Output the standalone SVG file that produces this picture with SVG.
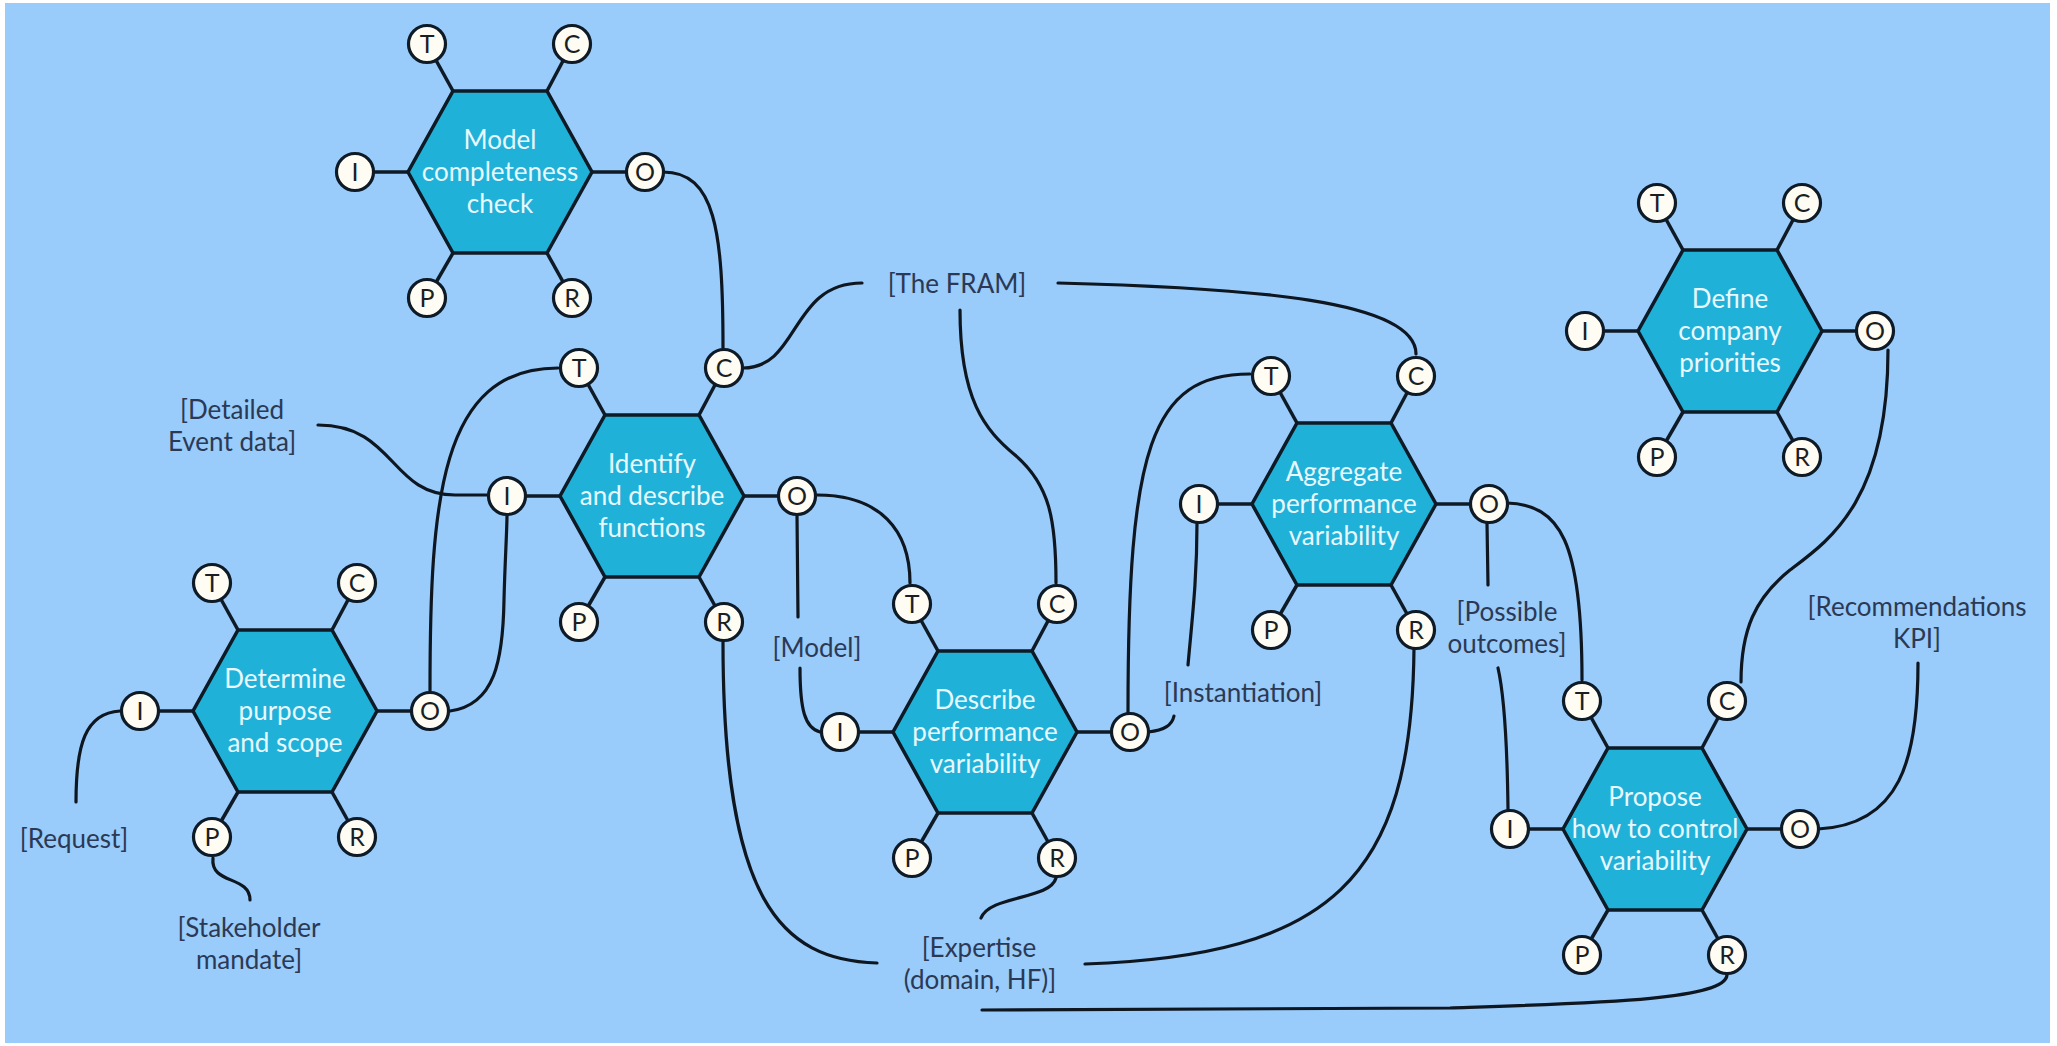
<svg xmlns="http://www.w3.org/2000/svg" xmlns:xlink="http://www.w3.org/1999/xlink" width="2057" height="1046" viewBox="0 0 2057 1046">
  <style>
    .hex { fill: #20B1D9; stroke: #0E1A26; stroke-width: 3.5; stroke-linejoin: miter; }
    .stub { stroke: #0E1A26; stroke-width: 3.5; }
    .port { fill: #FFFDF3; stroke: #0E1A26; stroke-width: 3.2; }
    .pl { font-family: Lato, "Open Sans", "Liberation Sans", sans-serif; font-size: 25px; fill: #1B1F24; text-anchor: middle; }
    .ht { font-family: Lato, "Open Sans", "Liberation Sans", sans-serif; font-size: 26px; font-weight: 400; fill: #E8F8FF; text-anchor: middle; }
    .lb { font-family: Lato, "Open Sans", "Liberation Sans", sans-serif; font-size: 26px; fill: #2B3954; text-anchor: middle; }
    .wire { fill: none; stroke: #0E1620; stroke-width: 3.2; stroke-linecap: round; }
  </style>
  <defs>
    <!-- FRAM function: hexagon with the six aspect ports -->
    <g id="fram-fn">
      <line class="stub" x1="-47" y1="-81" x2="-73" y2="-128"/>
      <line class="stub" x1="47" y1="-81" x2="72" y2="-128"/>
      <line class="stub" x1="-92" y1="0" x2="-145" y2="0"/>
      <line class="stub" x1="92" y1="0" x2="145" y2="0"/>
      <line class="stub" x1="-47" y1="81" x2="-73" y2="126"/>
      <line class="stub" x1="47" y1="81" x2="72" y2="126"/>
      <polygon class="hex" points="-47,-81 47,-81 92,0 47,81 -47,81 -92,0"/>
      <circle class="port" cx="-73" cy="-128" r="18.5"/>
      <text class="pl" x="-73" y="-119">T</text>
      <circle class="port" cx="72" cy="-128" r="18.5"/>
      <text class="pl" x="72" y="-119">C</text>
      <circle class="port" cx="-145" cy="0" r="18.5"/>
      <text class="pl" x="-145" y="9">I</text>
      <circle class="port" cx="145" cy="0" r="18.5"/>
      <text class="pl" x="145" y="9">O</text>
      <circle class="port" cx="-73" cy="126" r="18.5"/>
      <text class="pl" x="-73" y="135">P</text>
      <circle class="port" cx="72" cy="126" r="18.5"/>
      <text class="pl" x="72" y="135">R</text>
    </g>
  </defs>

  <!-- canvas -->
  <rect x="0" y="0" width="2057" height="1046" fill="#FFFFFF"/>
  <rect x="5" y="3" width="2045" height="1040" fill="#99CBFB"/>

  <!-- couplings between functions -->
  <g id="connectors">
    <path class="wire" d="M 663,172 C 715,172 723,230 723,348"/>
    <path class="wire" d="M 743,368 C 800,368 790,283 862,283"/>
    <path class="wire" d="M 1058,283 C 1250,288 1416,300 1416,354"/>
    <path class="wire" d="M 960,310 C 960,400 985,430 1015,455 C 1050,485 1056,520 1056,583"/>
    <path class="wire" d="M 817,495 C 880,495 910,530 910,583"/>
    <path class="wire" d="M 797,515 L 798,617"/>
    <path class="wire" d="M 800,668 C 800,710 805,728 820,732"/>
    <path class="wire" d="M 430,691 C 430,500 440,368 558,368"/>
    <path class="wire" d="M 450,711 C 495,705 503,660 504,600 C 505,560 507,530 507,515"/>
    <path class="wire" d="M 318,425 C 395,425 390,495 455,495 L 487,495"/>
    <path class="wire" d="M 120,711 C 85,713 76,745 76,802"/>
    <path class="wire" d="M 213,858 C 210,885 250,875 250,900"/>
    <path class="wire" d="M 723,642 C 723,900 780,960 877,963"/>
    <path class="wire" d="M 1056,878 C 1050,900 990,895 981,918"/>
    <path class="wire" d="M 1085,964 C 1330,955 1412,880 1414,648"/>
    <path class="wire" d="M 982,1010 L 1450,1008 C 1600,1003 1725,1000 1727,975"/>
    <path class="wire" d="M 1128,712 C 1128,450 1150,374 1250,374"/>
    <path class="wire" d="M 1148,732 C 1165,730 1172,725 1174,716"/>
    <path class="wire" d="M 1188,665 C 1192,620 1197,580 1197,523"/>
    <path class="wire" d="M 1487,523 L 1488,585"/>
    <path class="wire" d="M 1498,668 C 1503,690 1507,730 1508,809"/>
    <path class="wire" d="M 1507,503 C 1560,505 1582,540 1582,680"/>
    <path class="wire" d="M 1888,350 C 1888,500 1830,540 1790,570 C 1755,598 1741,630 1741,682"/>
    <path class="wire" d="M 1818,829 C 1900,825 1918,760 1918,663"/>
  </g>

  <!-- aspect labels -->
  <g id="labels">
    <text class="lb" x="232" y="419">[Detailed</text>
    <text class="lb" x="232" y="451">Event data]</text>
    <text class="lb" x="74" y="848">[Request]</text>
    <text class="lb" x="249" y="937">[Stakeholder</text>
    <text class="lb" x="249" y="969">mandate]</text>
    <text class="lb" x="957" y="293">[The FRAM]</text>
    <text class="lb" x="817" y="657">[Model]</text>
    <text class="lb" x="1243" y="702">[Instantiation]</text>
    <text class="lb" x="1507" y="621">[Possible</text>
    <text class="lb" x="1507" y="653">outcomes]</text>
    <text class="lb" x="979" y="957">[Expertise</text>
    <text class="lb" x="980" y="989">(domain, HF)]</text>
    <text class="lb" x="1917" y="616">[Recommendations</text>
    <text class="lb" x="1917" y="648">KPI]</text>
  </g>

  <g id="model-completeness-check" transform="translate(500,172)">
    <use xlink:href="#fram-fn"/>
    <text class="ht" x="0" y="-23">Model</text>
    <text class="ht" x="0" y="9">completeness</text>
    <text class="ht" x="0" y="41">check</text>
  </g>

  <g id="determine-purpose" transform="translate(285,711)">
    <use xlink:href="#fram-fn"/>
    <text class="ht" x="0" y="-23">Determine</text>
    <text class="ht" x="0" y="9">purpose</text>
    <text class="ht" x="0" y="41">and scope</text>
  </g>

  <g id="identify-functions" transform="translate(652,496)">
    <use xlink:href="#fram-fn"/>
    <text class="ht" x="0" y="-23">Identify</text>
    <text class="ht" x="0" y="9">and describe</text>
    <text class="ht" x="0" y="41">functions</text>
  </g>

  <g id="describe-variability" transform="translate(985,732)">
    <use xlink:href="#fram-fn"/>
    <text class="ht" x="0" y="-23">Describe</text>
    <text class="ht" x="0" y="9">performance</text>
    <text class="ht" x="0" y="41">variability</text>
  </g>

  <g id="aggregate-variability" transform="translate(1344,504)">
    <use xlink:href="#fram-fn"/>
    <text class="ht" x="0" y="-23">Aggregate</text>
    <text class="ht" x="0" y="9">performance</text>
    <text class="ht" x="0" y="41">variability</text>
  </g>

  <g id="define-priorities" transform="translate(1730,331)">
    <use xlink:href="#fram-fn"/>
    <text class="ht" x="0" y="-23">Define</text>
    <text class="ht" x="0" y="9">company</text>
    <text class="ht" x="0" y="41">priorities</text>
  </g>

  <g id="propose-control" transform="translate(1655,829)">
    <use xlink:href="#fram-fn"/>
    <text class="ht" x="0" y="-23">Propose</text>
    <text class="ht" x="0" y="9">how to control</text>
    <text class="ht" x="0" y="41">variability</text>
  </g>
</svg>
